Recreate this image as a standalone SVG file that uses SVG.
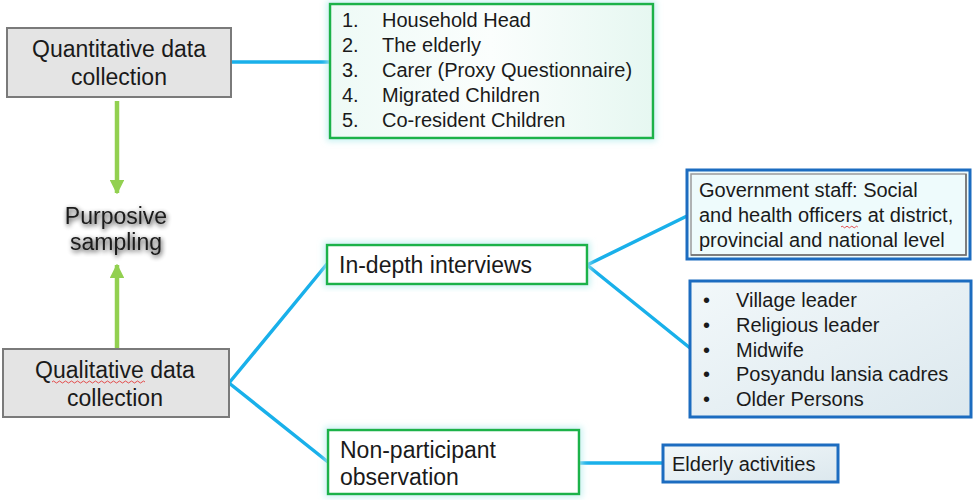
<svg xmlns="http://www.w3.org/2000/svg" width="973" height="500" viewBox="0 0 973 500">
  <style>
    text { font-family: "Liberation Sans", Arial, sans-serif; fill: #1a1a1a; }
    .big { font-size: 23px; }
    .mid { font-size: 20px; }
    .gray { fill: #e4e4e4; stroke: #7a7a7a; stroke-width: 2; }
    .green { stroke: #1fb24a; stroke-width: 2.5; }
    .blue { stroke: #1c6cc0; stroke-width: 3; }
    .bevel { fill: none; stroke: #9a9a9a; stroke-width: 1.5; }
    .link { stroke: #19b0ea; stroke-width: 3.5; fill: none; stroke-linecap: round; }
    .up { stroke: #92d050; stroke-width: 4.5; fill: none; }
    .squiggle { fill: none; stroke: #e23b3b; stroke-width: 0.9; }
  </style>
  <defs>
    <filter id="glow" x="-10%" y="-20%" width="120%" height="140%">
      <feMorphology in="SourceAlpha" operator="dilate" radius="2" result="grow"/>
      <feGaussianBlur in="grow" stdDeviation="3" result="soft"/>
      <feFlood flood-color="#b8eeee" flood-opacity="0.8"/>
      <feComposite in2="soft" operator="in" result="halo"/>
      <feMerge>
        <feMergeNode in="halo"/>
        <feMergeNode in="SourceGraphic"/>
      </feMerge>
    </filter>
    <filter id="shadow" x="-20%" y="-20%" width="140%" height="150%">
      <feGaussianBlur in="SourceAlpha" stdDeviation="2.4" result="b"/>
      <feOffset in="b" dx="1" dy="1.5" result="o"/>
      <feComponentTransfer in="o" result="s">
        <feFuncA type="linear" slope="0.85"/>
      </feComponentTransfer>
      <feMerge>
        <feMergeNode in="s"/>
        <feMergeNode in="SourceGraphic"/>
      </feMerge>
    </filter>
    <linearGradient id="mint" x1="0" y1="0" x2="1" y2="0">
      <stop offset="0" stop-color="#eefaf6"/>
      <stop offset="0.5" stop-color="#fbfefd"/>
      <stop offset="1" stop-color="#e6f7f1"/>
    </linearGradient>
    <linearGradient id="steel" x1="0" y1="0" x2="1" y2="1">
      <stop offset="0" stop-color="#f2f8fa"/>
      <stop offset="1" stop-color="#dce8ee"/>
    </linearGradient>
    <marker id="tip" viewBox="0 0 10 10" refX="9" refY="5" markerWidth="3.3" markerHeight="3.3" orient="auto" markerUnits="strokeWidth">
      <path d="M0,0 L10,5 L0,10 z" fill="#92d050"/>
    </marker>
  </defs>

  <!-- connectors -->
  <g id="connectors">
    <line class="link" x1="231" y1="62" x2="330" y2="62"/>
    <line class="link" x1="229" y1="383" x2="327" y2="264"/>
    <line class="link" x1="229" y1="383" x2="328" y2="462"/>
    <line class="link" x1="587" y1="265" x2="687" y2="216"/>
    <line class="link" x1="587" y1="265" x2="690" y2="348"/>
    <line class="link" x1="579" y1="463" x2="663" y2="463"/>
    <line class="up" x1="117" y1="101" x2="117" y2="193" marker-end="url(#tip)"/>
    <line class="up" x1="117" y1="348" x2="117" y2="265" marker-end="url(#tip)"/>
  </g>

  <!-- Quantitative data collection -->
  <g id="quantitative">
    <rect class="gray" x="7" y="28" width="224" height="69"/>
    <text class="big" x="119" y="57" text-anchor="middle">Quantitative data</text>
    <text class="big" x="119" y="85" text-anchor="middle">collection</text>
  </g>

  <!-- Quantitative respondents -->
  <g id="respondents">
    <rect class="green" x="330" y="4" width="323" height="134" fill="url(#mint)" filter="url(#glow)"/>
    <g class="mid">
      <text x="342" y="27">1.</text><text x="382" y="27">Household Head</text>
      <text x="342" y="52">2.</text><text x="382" y="52">The elderly</text>
      <text x="342" y="77">3.</text><text x="382" y="77">Carer (Proxy Questionnaire)</text>
      <text x="342" y="102">4.</text><text x="382" y="102">Migrated Children</text>
      <text x="342" y="127">5.</text><text x="382" y="127">Co-resident Children</text>
    </g>
  </g>

  <!-- Purposive sampling -->
  <g id="purposive" filter="url(#shadow)">
    <text class="big" x="116" y="224" text-anchor="middle">Purposive</text>
    <text class="big" x="116" y="250" text-anchor="middle">sampling</text>
  </g>

  <!-- Qualitative data collection -->
  <g id="qualitative">
    <rect class="gray" x="3" y="349" width="226" height="68"/>
    <text class="big" x="115" y="378" text-anchor="middle">Qualitative data</text>
    <path class="squiggle" d="M52,382 q1.5,-2 3,0 t3,0 t3,0 t3,0 t3,0 t3,0 t3,0 t3,0 t3,0 t3,0 t3,0 t3,0 t3,0 t3,0 t3,0 t3,0 t3,0 t3,0 t3,0 t3,0 t3,0 t3,0 t3,0 t3,0 t3,0 t3,0 t3,0 t3,0 t3,0 t3,0 t3,0"/>
    <text class="big" x="115" y="406" text-anchor="middle">collection</text>
  </g>

  <!-- In-depth interviews -->
  <g id="indepth">
    <rect class="green" x="327" y="245" width="260" height="39" fill="#ffffff" filter="url(#glow)"/>
    <text class="big" x="339" y="273">In-depth interviews</text>
  </g>

  <!-- Non-participant observation -->
  <g id="observation">
    <rect class="green" x="328" y="430" width="251" height="64" fill="#ffffff" filter="url(#glow)"/>
    <text class="big" x="340" y="458">Non-participant</text>
    <text class="big" x="340" y="485">observation</text>
  </g>

  <!-- Government staff -->
  <g id="government">
    <rect class="blue" x="687" y="170" width="283" height="89" fill="#eefbfc"/>
    <rect class="bevel" x="691" y="174" width="275" height="81"/>
    <path d="M691,255 L966,255 L966,174" fill="none" stroke="#6e6e6e" stroke-width="1.5"/>
    <g class="mid">
      <text x="699" y="197">Government staff: Social</text>
      <text x="699" y="222">and health officers at district,</text>
      <path class="squiggle" d="M841,227 q1.2,-1.6 2.4,0 t2.4,0 t2.4,0 t2.4,0 t2.4,0 t2.4,0 t2.4,0"/>
      <text x="699" y="247">provincial and national level</text>
    </g>
  </g>

  <!-- Community informants -->
  <g id="informants">
    <rect class="blue" x="690" y="281" width="281" height="136" fill="url(#steel)"/>
    <g class="mid">
      <text x="703" y="307">•</text><text x="736" y="307">Village leader</text>
      <text x="703" y="332">•</text><text x="736" y="332">Religious leader</text>
      <text x="703" y="357">•</text><text x="736" y="357">Midwife</text>
      <text x="703" y="381">•</text><text x="736" y="381">Posyandu lansia cadres</text>
      <text x="703" y="406">•</text><text x="736" y="406">Older Persons</text>
    </g>
  </g>

  <!-- Elderly activities -->
  <g id="activities">
    <rect class="blue" x="663" y="445" width="175" height="37" fill="url(#steel)"/>
    <text class="mid" x="672" y="471">Elderly activities</text>
  </g>
</svg>
